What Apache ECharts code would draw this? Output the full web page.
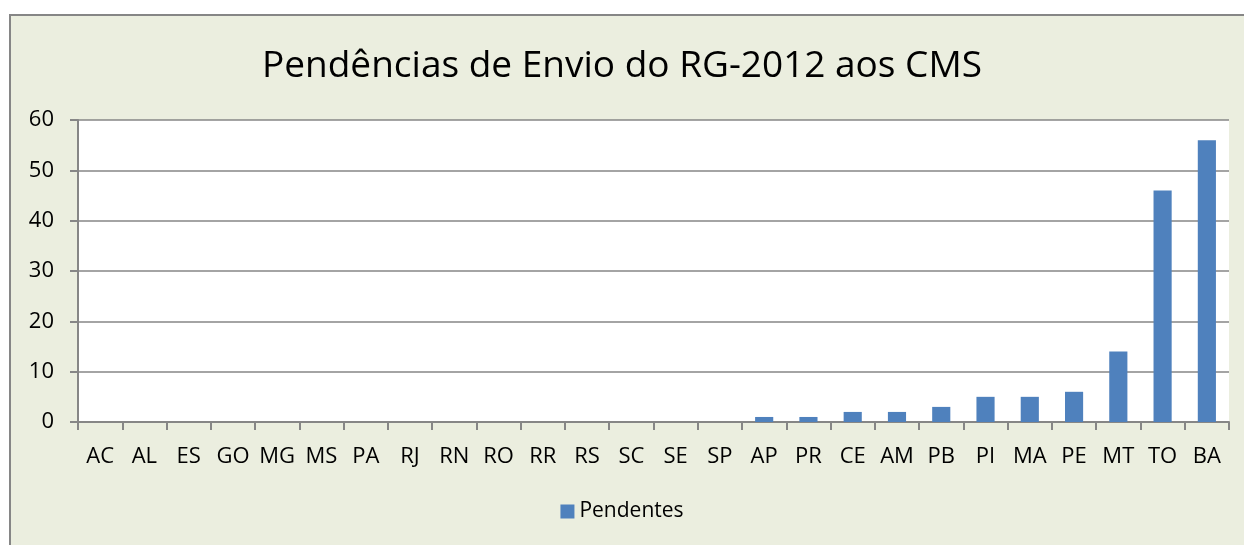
<!DOCTYPE html>
<html>
<head>
<meta charset="utf-8">
<script src="https://cdn.jsdelivr.net/npm/echarts@6/dist/echarts.min.js"></script>
<style>
  html, body { margin: 0; padding: 0; background: #fff; }
  #panel { width: 1244px; height: 545px; }
</style>
</head>
<body>
<div id="panel"></div>
<script>
// estados e pendências
var categories = ['AC', 'AL', 'ES', 'GO', 'MG', 'MS', 'PA', 'RJ', 'RN', 'RO', 'RR', 'RS', 'SC', 'SE', 'SP',
    'AP', 'PR', 'CE', 'AM', 'PB', 'PI', 'MA', 'PE', 'MT', 'TO', 'BA'];
var pendentes = [0, 0, 0, 0, 0, 0, 0, 0, 0, 0, 0, 0, 0, 0, 0,
    1, 1, 2, 2, 3, 5, 5, 6, 14, 46, 56];
var yTicks = [0, 10, 20, 30, 40, 50, 60];

var fontFam = '"Open Sans", "Noto Sans", sans-serif';

chartDom = document.getElementById('panel');
myChart = echarts.init(chartDom);

var option = {
    backgroundColor: '#fff',
    graphic: [{
        type: 'rect',
        left: 9, top: 14,
        shape: { width: 1250, height: 560 },
        style: { fill: '#ebeedf', stroke: '#868686', lineWidth: 2 },
        z: -10
    }],
    title: {
        text: 'Pendências de Envio do RG-2012 aos CMS',
        left: 'center',
        top: 43,
        textStyle: { fontFamily: fontFam, fontSize: 37, fontWeight: 'normal', color: '#000' }
    },
    legend: {
        data: ['Pendentes'],
        bottom: 18,
        left: 'center',
        icon: 'rect',
        itemWidth: 14,
        itemHeight: 14,
        itemGap: 6,
        textStyle: { fontFamily: fontFam, fontSize: 21, color: '#000' }
    },
    grid: {
        left: 78, right: 15, top: 120, bottom: 123,
        show: true,
        backgroundColor: '#fff',
        borderWidth: 0
    },
    xAxis: {
        type: 'category',
        data: categories,
        axisLine: { lineStyle: { color: '#868686', width: 2 } },
        axisTick: { show: true, length: 8, lineStyle: { color: '#868686', width: 2 } },
        axisLabel: { fontFamily: fontFam, fontSize: 22, color: '#000', margin: 24, interval: 0 }
    },
    yAxis: {
        type: 'value',
        min: yTicks[0],
        max: yTicks[yTicks.length - 1],
        interval: 10,
        axisLine: { show: true, lineStyle: { color: '#868686', width: 2 } },
        axisTick: { show: true, length: 8, lineStyle: { color: '#868686', width: 2 } },
        axisLabel: { fontFamily: fontFam, fontSize: 22, color: '#000', margin: 24 },
        splitLine: { lineStyle: { color: '#868686', width: 1.5 } }
    },
    series: [{
        name: 'Pendentes',
        type: 'bar',
        data: pendentes,
        barWidth: '41%',
        itemStyle: { color: '#4f81bd' }
    }]
};

myChart.setOption(option);
</script>
</body>
</html>
